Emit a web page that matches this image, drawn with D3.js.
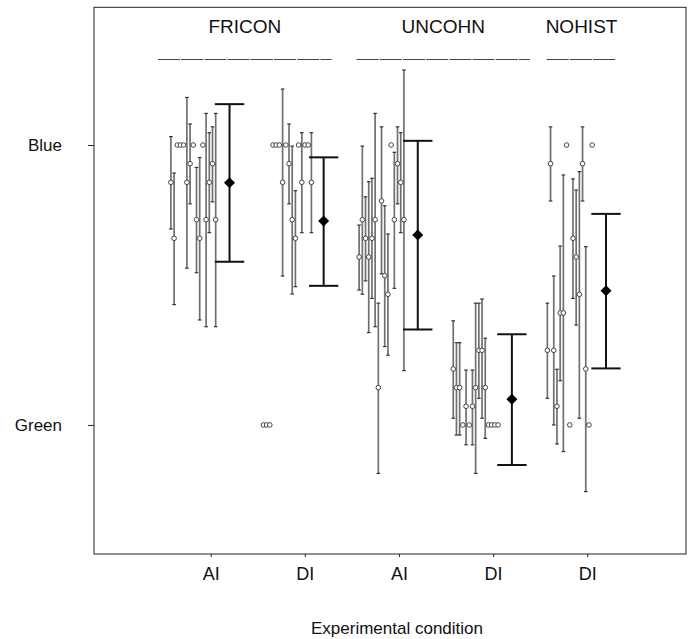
<!DOCTYPE html>
<html>
<head>
<meta charset="utf-8">
<script src="https://cdn.jsdelivr.net/npm/d3@7/dist/d3.min.js"></script>
<style>
  body { margin: 0; background: #fff; }
  text { font-family: "Liberation Sans", Arial, Helvetica, sans-serif; fill: #111; }
</style>
</head>
<body>
<div id="chart"></div>
<script>
// x positions 1..5, one per experimental condition
var conditionPos = [1, 2, 3, 4, 5];
var conditionLabels = ["AI", "DI", "AI", "DI", "DI"];

// groups written above the plot, with the span of their underline (in x units)
var groupNames = ["FRICON", "UNCOHN", "NOHIST"];
var groupStart = [0.44, 2.55, 4.57];
var groupEnd = [2.285, 4.39, 5.31];

// y: proportion of "Blue" answers (0 = Green, 1 = Blue)
var yTickValues = [0, 1];
var yTickLabels = ["Green", "Blue"];

// per-subject proportions (k / 15) and their error bars (null = no bar)
var friconAI = [13, 10, 15, 15, 15, 13, 14, 15, 11, 10, 15, 11, 13, 14, 11];
var friconAILow = [0.70, 0.43, null, null, null, 0.56, 0.79, null, 0.544, 0.375, null, 0.351, 0.687, 0.797, 0.351];
var friconAIHigh = [1.03, 0.90, null, null, null, 1.17, 1.075, null, 0.92, 0.955, null, 1.113, 1.044, 1.065, 1.113];

var friconDI = [0, 0, 0, 15, 15, 15, 13, 15, 14, 11, 10, 15, 13, 15, 15, 13];
var friconDILow = [null, null, null, null, null, null, 0.532, null, 0.79, 0.468, 0.494, null, 0.687, null, null, 0.687];
var friconDIHigh = [null, null, null, null, null, null, 1.20, null, 1.075, 0.996, 0.837, null, 1.044, null, null, 1.044];

var uncohnAI = [9, 11, 10, 9, 10, 11, 2, 12, 8, 7, 15, 11, 14, 13, 11];
var uncohnAILow = [0.482, 0.467, 0.515, 0.33, 0.452, 0.351, -0.173, 0.54, 0.28, 0.249, null, 0.488, 0.79, 0.687, 0.194];
var uncohnAIHigh = [0.714, 0.996, 0.815, 0.869, 0.881, 1.113, 0.435, 1.065, 0.783, 0.682, null, 0.974, 1.065, 1.044, 1.268];

var uncohnDI = [3, 2, 2, 0, 1, 0, 1, 2, 4, 4, 2, 0, 0, 0, 0];
var uncohnDILow = [0.024, -0.036, -0.036, null, -0.071, null, -0.071, -0.173, 0.095, 0.024, -0.048, null, null, null, null];
var uncohnDIHigh = [0.372, 0.294, 0.294, null, 0.196, null, 0.196, 0.435, 0.435, 0.45, 0.31, null, null, null, null];

var nohistDI = [4, 14, 4, 1, 6, 6, 15, 0, 10, 9, 7, 14, 3, 0, 15];
var nohistDILow = [0.095, 0.80, 0.0, -0.068, 0.158, -0.095, null, null, 0.452, 0.357, 0.024, 0.80, -0.238, null, null];
var nohistDIHigh = [0.435, 1.065, 0.532, 0.199, 0.639, 0.893, null, null, 0.879, 0.839, 0.905, 1.065, 0.637, null, null];

// condition means with error bars
var meanValues = [0.865, 0.729, 0.679, 0.092, 0.479];
var meanLow = [0.583, 0.497, 0.341, -0.143, 0.202];
var meanHigh = [1.146, 0.956, 1.015, 0.324, 0.754];

var subjects = [friconAI, friconDI, uncohnAI, uncohnDI, nohistDI];
var subjectsLow = [friconAILow, friconDILow, uncohnAILow, uncohnDILow, nohistDILow];
var subjectsHigh = [friconAIHigh, friconDIHigh, uncohnAIHigh, uncohnDIHigh, nohistDIHigh];

var width = 690, height = 639;

var x = d3.scaleLinear().domain([-0.24, 6.05]).range([94, 686]);
var y = d3.scaleLinear().domain([-0.461, 1.492]).range([554, 7.3]);

var svg = d3.select("#chart").append("svg")
    .attr("width", width)
    .attr("height", height);

// build a flat table of subject points
var points = [];
subjects.forEach(function(vals, c) {
    var n = vals.length;
    vals.forEach(function(k, i) {
        points.push({
            x: conditionPos[c] - 0.185 + (i - (n - 1) / 2) * 0.034,
            v: k / 15,
            lo: subjectsLow[c][i],
            hi: subjectsHigh[c][i]
        });
    });
});
var bars = points.filter(function(d) { return d.lo !== null; });

// frame
svg.append("rect")
    .attr("x", x.range()[0])
    .attr("y", y.range()[1])
    .attr("width", x.range()[1] - x.range()[0])
    .attr("height", y.range()[0] - y.range()[1])
    .attr("fill", "none")
    .attr("stroke", "#222")
    .attr("stroke-width", 1);

// y axis
var yAxis = svg.append("g")
    .attr("transform", "translate(" + x.range()[0] + ",0)")
    .call(d3.axisLeft(y).tickValues(yTickValues).tickSize(6).tickPadding(26)
        .tickFormat(function(d, i) { return yTickLabels[i]; }));
yAxis.select(".domain").remove();
yAxis.selectAll("line").attr("stroke", "#222");
yAxis.selectAll("text").style("font-size", "17px")
    .style("font-family", "'Liberation Sans', Arial, sans-serif").attr("fill", "#111");

// x axis
var xAxis = svg.append("g")
    .attr("transform", "translate(0," + y.range()[0] + ")")
    .call(d3.axisBottom(x).tickValues(conditionPos).tickSize(3).tickPadding(10)
        .tickFormat(function(d, i) { return conditionLabels[i]; }));
xAxis.select(".domain").remove();
xAxis.selectAll("line").attr("stroke", "#222");
xAxis.selectAll("text").style("font-size", "18px")
    .style("font-family", "'Liberation Sans', Arial, sans-serif").attr("fill", "#111");

// x axis label
svg.append("text")
    .attr("x", 397)
    .attr("y", 634)
    .attr("text-anchor", "middle")
    .style("font-size", "17px")
    .text("Experimental condition");

// group names and their underlines
groupNames.forEach(function(g, i) {
    var cx = (x(groupStart[i]) + x(groupEnd[i])) / 2;
    svg.append("text")
        .attr("x", cx)
        .attr("y", 33)
        .attr("text-anchor", "middle")
        .style("font-size", "19px")
        .text(g);
    svg.append("line")
        .attr("x1", x(groupStart[i]))
        .attr("x2", x(groupEnd[i]))
        .attr("y1", 59.5)
        .attr("y2", 59.5)
        .attr("stroke", "#444")
        .attr("stroke-width", 1)
        .attr("stroke-dasharray", "22,1.2");
});

// subject error bars
svg.selectAll(".sbar")
    .data(bars)
    .enter().append("line")
    .attr("class", "sbar")
    .attr("x1", function(d) { return x(d.x); })
    .attr("x2", function(d) { return x(d.x); })
    .attr("y1", function(d) { return y(d.lo); })
    .attr("y2", function(d) { return y(d.hi); })
    .attr("stroke", "#707070")
    .attr("stroke-width", 1.7);

["lo", "hi"].forEach(function(end) {
    svg.selectAll(".scap-" + end)
        .data(bars)
        .enter().append("line")
        .attr("class", "scap-" + end)
        .attr("x1", function(d) { return x(d.x) - 1.8; })
        .attr("x2", function(d) { return x(d.x) + 1.8; })
        .attr("y1", function(d) { return y(d[end]); })
        .attr("y2", function(d) { return y(d[end]); })
        .attr("stroke", "#333")
        .attr("stroke-width", 1.2);
});

// subject points
svg.selectAll(".pt")
    .data(points)
    .enter().append("circle")
    .attr("class", "pt")
    .attr("cx", function(d) { return x(d.x); })
    .attr("cy", function(d) { return y(d.v); })
    .attr("r", 2.3)
    .attr("fill", "#fff")
    .attr("stroke", "#444")
    .attr("stroke-width", 1);

// condition means
var means = meanValues.map(function(v, i) {
    return { x: conditionPos[i] + 0.2, v: v, lo: meanLow[i], hi: meanHigh[i] };
});

svg.selectAll(".mbar")
    .data(means)
    .enter().append("line")
    .attr("class", "mbar")
    .attr("x1", function(d) { return x(d.x); })
    .attr("x2", function(d) { return x(d.x); })
    .attr("y1", function(d) { return y(d.lo); })
    .attr("y2", function(d) { return y(d.hi); })
    .attr("stroke", "#111")
    .attr("stroke-width", 2);

["lo", "hi"].forEach(function(end) {
    svg.selectAll(".mcap-" + end)
        .data(means)
        .enter().append("line")
        .attr("class", "mcap-" + end)
        .attr("x1", function(d) { return x(d.x - 0.156); })
        .attr("x2", function(d) { return x(d.x + 0.156); })
        .attr("y1", function(d) { return y(d[end]); })
        .attr("y2", function(d) { return y(d[end]); })
        .attr("stroke", "#111")
        .attr("stroke-width", 2);
});

svg.selectAll(".mpt")
    .data(means)
    .enter().append("path")
    .attr("class", "mpt")
    .attr("transform", function(d) { return "translate(" + x(d.x) + "," + y(d.v) + ")"; })
    .attr("d", "M0,-5.5L5.5,0L0,5.5L-5.5,0Z")
    .attr("fill", "#000");
</script>
</body>
</html>
